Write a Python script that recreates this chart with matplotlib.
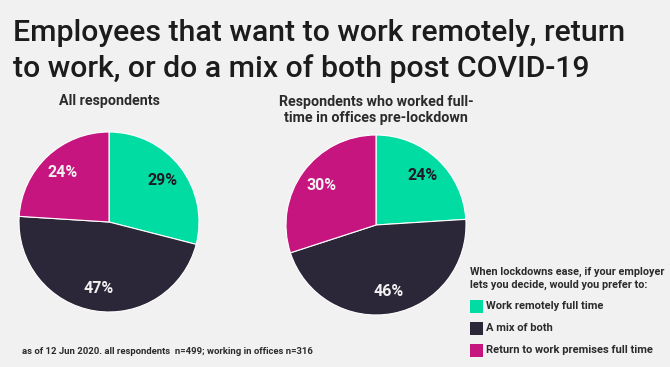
import matplotlib
matplotlib.use("Agg")
import matplotlib.pyplot as plt
from matplotlib.patches import Rectangle

categories = ["Work remotely full time", "A mix of both", "Return to work premises full time"]
all_resp = [29, 47, 24]
office_resp = [24, 46, 30]
colors = ["#00dca2", "#2b2638", "#c6157f"]
label_colors = ["#1e1b26", "#f1f1f1", "#f1f1f1"]

BG = "#f1f1f1"
TXT = "#2b2b2b"

plt.rcParams["font.family"] = ["Roboto", "DejaVu Sans"]

fig = plt.figure(figsize=(6.7, 3.67), dpi=100, facecolor=BG)


def draw_pie(rect, values):
    ax = fig.add_axes(rect)
    wedges, texts, autotexts = ax.pie(
        values, colors=colors, startangle=90, counterclock=False,
        autopct="%d%%", pctdistance=0.75,
        wedgeprops=dict(edgecolor="white", linewidth=0.8),
        textprops=dict(fontsize=11.5, fontweight="bold"))
    for t, c in zip(autotexts, label_colors):
        t.set_color(c)
    ax.set_xlim(-1.0, 1.0)
    ax.set_ylim(-1.0, 1.0)
    ax.set_aspect("equal")
    ax.axis("off")
    return ax


draw_pie([19 / 670, 55 / 367, 180 / 670, 180 / 367], all_resp)
draw_pie([286 / 670, 52 / 367, 180 / 670, 180 / 367], office_resp)

fig.text(13 / 670, 1 - 33 / 367, "Employees that want to work remotely, return",
         fontsize=21.8, color="#1c1c1c", va="center", ha="left", fontweight="medium")
fig.text(13 / 670, 1 - 69 / 367, "to work, or do a mix of both post COVID-19",
         fontsize=21.8, color="#1c1c1c", va="center", ha="left", fontweight="medium")

fig.text(109 / 670, 1 - 101 / 367, "All respondents", fontsize=10.3,
         color=TXT, ha="center", va="center", fontweight="bold")
fig.text(376 / 670, 1 - 110 / 367, "Respondents who worked full-\ntime in offices pre-lockdown",
         fontsize=10.3, color=TXT, ha="center", va="center", fontweight="bold",
         linespacing=1.1)

fig.text(470 / 670, 1 - 278 / 367,
         "When lockdowns ease, if your employer\nlets you decide, would you prefer to:",
         fontsize=7.8, color=TXT, ha="left", va="center", fontweight="bold",
         linespacing=1.35)
for i, (cat, col) in enumerate(zip(categories, colors)):
    y = 306 + i * 22
    fig.patches.append(Rectangle((470 / 670, 1 - (y + 7) / 367), 13 / 670, 13 / 367,
                                 transform=fig.transFigure, facecolor=col, edgecolor="none"))
    fig.text(486 / 670, 1 - y / 367, cat, fontsize=8, color=TXT,
             ha="left", va="center", fontweight="bold")

fig.text(22 / 670, 1 - 351 / 367,
         "as of 12 Jun 2020. all respondents  n=499; working in offices n=316",
         fontsize=6.8, color=TXT, ha="left", va="center", fontweight="bold")

fig.savefig("out.png", dpi=100, facecolor=BG)
